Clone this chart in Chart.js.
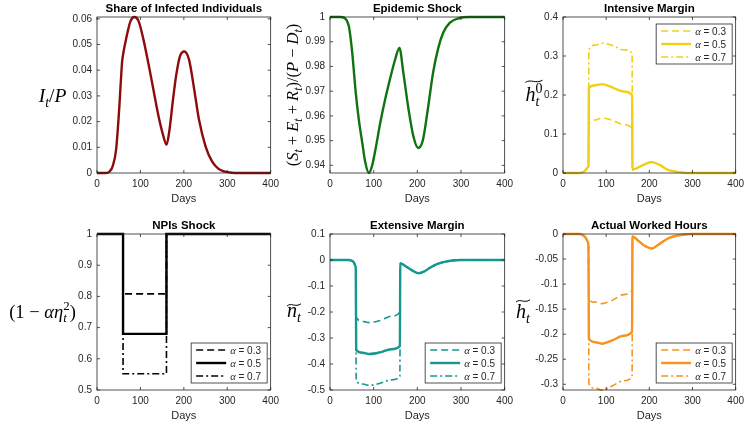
<!DOCTYPE html>
<html>
<head>
<meta charset="utf-8">
<title>Epidemic shock and hours worked</title>
<script src="https://cdn.jsdelivr.net/npm/chart.js@4.4.1/dist/chart.umd.min.js"></script>
<style>
  body { margin: 0; background: #fff; }
  #fig { position: relative; width: 745px; height: 425px; overflow: hidden; background: #fff; }
  #fig canvas { position: absolute; }
</style>
</head>
<body>
<div id="fig"></div>
<script>
// Valores (dias 0-400)
const xTicks = [0, 100, 200, 300, 400];
const alphas = [0.3, 0.5, 0.7];

// Share of Infected Individuals
const daysInfected = [0, 20, 29, 36, 44, 51, 55, 58, 61, 65, 70, 77, 86, 96, 107, 119, 130, 141, 152, 160, 167, 175, 182, 191, 201, 212, 224, 235, 250, 265, 280, 295, 310, 330, 400];
const infected = [0, 0, 0.0006, 0.0026, 0.0091, 0.0246, 0.036, 0.0435, 0.047, 0.0505, 0.0545, 0.059, 0.0607, 0.059, 0.0519, 0.0421, 0.0324, 0.0227, 0.0149, 0.011, 0.0168, 0.0285, 0.0376, 0.0454, 0.0473, 0.0441, 0.0324, 0.0207, 0.0104, 0.0045, 0.0016, 0.0005, 0.0001, 0, 0];
const ticksInfected = [0, 0.01, 0.02, 0.03, 0.04, 0.05, 0.06];

// Epidemic Shock
const daysShock = [0, 25, 36, 44, 51, 59, 66, 74, 81, 89, 96, 104, 115, 127, 138, 149, 159, 168, 180, 191, 202, 213, 225, 236, 248, 259, 274, 297, 320, 400];
const shock = [1, 1, 0.9992, 0.9955, 0.9854, 0.9693, 0.9585, 0.949, 0.941, 0.9369, 0.9396, 0.9463, 0.9571, 0.9672, 0.9753, 0.9827, 0.9875, 0.9774, 0.9625, 0.9517, 0.947, 0.9504, 0.9639, 0.9774, 0.9875, 0.9935, 0.9976, 0.9996, 1, 1];
const ticksShock = [0.94, 0.95, 0.96, 0.97, 0.98, 0.99, 1];

// lockdown window, days 60-160
const lockDays = [60, 75, 90, 115, 140, 160];

// Intensive Margin
const preIntensiveDays = [0, 38, 48, 54, 58, 59];
const preIntensive = [0, 0, 0.003, 0.010, 0.015, 0.017];
const lockIntensive03 = [0.126, 0.136, 0.141, 0.135, 0.124, 0.115];
const lockIntensive05 = [0.218, 0.225, 0.228, 0.219, 0.209, 0.200];
const lockIntensive07 = [0.316, 0.328, 0.333, 0.327, 0.316, 0.307];
const postIntensiveDays = [161, 170, 185, 205, 225, 242, 265, 290, 400];
const postIntensive = [0.0085, 0.012, 0.02, 0.028, 0.02, 0.0085, 0.003, 0, 0];
const ticksIntensive = [0, 0.1, 0.2, 0.3, 0.4];

// NPIs Shock
const npiDays = [0, 60, 60, 160, 160, 400];
const npi03 = [1, 1, 0.808, 0.808, 1, 1];
const npi05 = [1, 1, 0.68, 0.68, 1, 1];
const npi07 = [1, 1, 0.552, 0.552, 1, 1];
const ticksNpi = [0.5, 0.6, 0.7, 0.8, 0.9, 1];

// Extensive Margin
const preExtensiveDays = [0, 42, 50, 55, 58, 59];
const preExtensive = [0, 0, -0.003, -0.01, -0.022, -0.032];
const lockExtensive03 = [-0.22, -0.236, -0.241, -0.233, -0.216, -0.201];
const lockExtensive05 = [-0.346, -0.357, -0.3615, -0.355, -0.343, -0.331];
const lockExtensive07 = [-0.465, -0.477, -0.482, -0.474, -0.461, -0.448];
const postExtensiveDays = [161, 175, 190, 203, 215, 228, 245, 260, 280, 300, 400];
const postExtensive = [-0.013, -0.026, -0.042, -0.051, -0.045, -0.031, -0.016, -0.008, -0.002, 0, 0];
const ticksExtensive = [-0.5, -0.4, -0.3, -0.2, -0.1, 0, 0.1];

// Actual Worked Hours
const preHoursDays = [0, 38, 47, 53, 57, 59];
const preHours = [0, 0, -0.003, -0.008, -0.015, -0.025];
const lockHours03 = [-0.131, -0.136, -0.139, -0.132, -0.121, -0.112];
const lockHours05 = [-0.209, -0.216, -0.219, -0.212, -0.203, -0.195];
const lockHours07 = [-0.299, -0.308, -0.312, -0.303, -0.293, -0.285];
const postHoursDays = [161, 175, 190, 206, 220, 243, 260, 273, 300, 400];
const postHours = [-0.005, -0.014, -0.024, -0.029, -0.022, -0.009, -0.004, -0.002, 0, 0];
const ticksHours = [-0.3, -0.25, -0.2, -0.15, -0.1, -0.05, 0];

// ---------------------------------------------------------------
const PAD_L = 100, PAD_T = 20, PAD_R = 10, PAD_B = 36;
const AXIS = '#262626';
const SANS = '"Liberation Sans", Arial, sans-serif';
const SERIF = '"Liberation Serif", "Times New Roman", serif';
const dashes = { dash: [7, 4], solid: [], dashdot: [7, 3, 2, 3] };
const styles = ['dash', 'solid', 'dashdot'];

function line(xs, ys, color, style, smooth) {
    return {
        data: xs.map((x, i) => ({ x: x, y: ys[i] })),
        borderColor: color,
        borderWidth: style === 'solid' ? 2.4 : 1.6,
        borderDash: dashes[style],
        pointRadius: 0,
        fill: false,
        tension: 0,
        cubicInterpolationMode: smooth ? 'monotone' : 'default',
        clip: 3
    };
}

function alphaLines(pre, preX, locks, post, postX, color) {
    return locks.map((lk, k) =>
        line(preX.concat(lockDays, postX), pre.concat(lk, post), color, styles[k], true));
}

// texto matematico simples: partes com italico, subscrito e sobrescrito
function drawMath(ctx, parts, cx, cy, size, tilde) {
    const items = [];
    let x = 0, prev = null;
    parts.forEach(p => {
        const fs = (p.sub || p.sup) ? size * 0.7 : size;
        ctx.font = (p.it ? 'italic ' : '') + fs + 'px ' + SERIF;
        const w = ctx.measureText(p.t).width;
        let px = x;
        if (p.back && prev) { px = prev.x; x = Math.max(x, px + w); } else { x += w; }
        prev = { p: p, font: ctx.font, x: px, dy: p.sub ? size * 0.24 : p.sup ? -size * 0.4 : 0 };
        items.push(prev);
    });
    const x0 = cx - x / 2, base = cy + size * 0.3;
    ctx.textAlign = 'left';
    ctx.textBaseline = 'alphabetic';
    items.forEach(it => {
        ctx.font = it.font;
        ctx.fillText(it.p.t, x0 + it.x, base + it.dy);
    });
    if (tilde) {
        const ty = base - size * tilde, w = x;
        ctx.beginPath();
        ctx.moveTo(x0, ty + 1);
        ctx.bezierCurveTo(x0 + w * 0.3, ty - 2.8, x0 + w * 0.6, ty + 2.8, x0 + w, ty - 1.2);
        ctx.lineWidth = 1;
        ctx.strokeStyle = '#000';
        ctx.stroke();
    }
}

function decor(spec) {
    return {
        id: 'decor',
        afterDraw(chart) {
            const { ctx, chartArea: a, scales } = chart;
            ctx.save();
            // caixa e marcas para dentro
            ctx.strokeStyle = AXIS;
            ctx.lineWidth = 0.8;
            ctx.strokeRect(a.left, a.top, a.right - a.left, a.bottom - a.top);
            ctx.beginPath();
            scales.x.ticks.forEach(t => {
                const x = scales.x.getPixelForValue(t.value);
                ctx.moveTo(x, a.bottom); ctx.lineTo(x, a.bottom - 3);
                ctx.moveTo(x, a.top); ctx.lineTo(x, a.top + 3);
            });
            scales.y.ticks.forEach(t => {
                const y = scales.y.getPixelForValue(t.value);
                ctx.moveTo(a.left, y); ctx.lineTo(a.left + 3, y);
                ctx.moveTo(a.right, y); ctx.lineTo(a.right - 3, y);
            });
            ctx.stroke();

            // titulo
            ctx.fillStyle = '#000';
            ctx.font = 'bold 11.5px ' + SANS;
            ctx.textAlign = 'center';
            ctx.textBaseline = 'middle';
            ctx.fillText(spec.title, (a.left + a.right) / 2, a.top - 8);

            // rotulo do eixo y
            const yl = spec.ylabel;
            const cx = a.left + yl.dx, cy = (a.top + a.bottom) / 2 + (yl.dy || 0);
            ctx.fillStyle = '#000';
            if (yl.rotate) {
                ctx.save();
                ctx.translate(cx, cy);
                ctx.rotate(-Math.PI / 2);
                drawMath(ctx, yl.parts, 0, 0, yl.size, yl.tilde);
                ctx.restore();
            } else {
                drawMath(ctx, yl.parts, cx, cy, yl.size, yl.tilde);
            }

            // legenda
            if (spec.legend) {
                const lw = 76, lh = 40;
                const lx = a.right - 3.5 - lw;
                const ly = spec.legend === 'ne' ? a.top + 7 : a.bottom - 7 - lh;
                ctx.fillStyle = '#fff';
                ctx.fillRect(lx, ly, lw, lh);
                ctx.strokeStyle = AXIS;
                ctx.lineWidth = 0.8;
                ctx.setLineDash([]);
                ctx.strokeRect(lx, ly, lw, lh);
                chart.data.datasets.forEach((ds, k) => {
                    const ry = ly + 7 + k * 13;
                    ctx.beginPath();
                    ctx.setLineDash(ds.borderDash);
                    ctx.strokeStyle = ds.borderColor;
                    ctx.lineWidth = ds.borderWidth;
                    ctx.moveTo(lx + 5, ry);
                    ctx.lineTo(lx + 35, ry);
                    ctx.stroke();
                    ctx.setLineDash([]);
                    ctx.fillStyle = AXIS;
                    ctx.textAlign = 'left';
                    ctx.textBaseline = 'alphabetic';
                    ctx.font = 'italic 10.5px ' + SERIF;
                    ctx.fillText('α', lx + 39, ry + 3.5);
                    const aw = ctx.measureText('α').width;
                    ctx.font = '10px ' + SANS;
                    ctx.fillText(' = ' + alphas[k], lx + 39 + aw, ry + 3.5);
                });
            }
            ctx.restore();
        }
    };
}

function fmt(v) { return String(+v.toFixed(4)); }

function makePanel(o) {
    const w = o.box[2] - o.box[0], h = o.box[3] - o.box[1];
    const cv = document.createElement('canvas');
    cv.width = w + PAD_L + PAD_R;
    cv.height = h + PAD_T + PAD_B;
    cv.style.left = (o.box[0] - PAD_L) + 'px';
    cv.style.top = (o.box[1] - PAD_T) + 'px';
    cv.style.width = cv.width + 'px';
    cv.style.height = cv.height + 'px';
    document.getElementById('fig').appendChild(cv);

    return new Chart(cv.getContext('2d'), {
        type: 'line',
        data: { datasets: o.datasets },
        options: {
            responsive: false,
            animation: false,
            devicePixelRatio: 1,
            layout: { padding: { left: 0, top: PAD_T, right: PAD_R, bottom: 0 } },
            plugins: { legend: { display: false }, tooltip: { enabled: false }, title: { display: false } },
            scales: {
                x: {
                    type: 'linear', min: 0, max: 400,
                    grid: { display: false, drawTicks: false },
                    border: { display: false },
                    afterBuildTicks: s => { s.ticks = xTicks.map(v => ({ value: v })); },
                    afterFit: s => { s.height = PAD_B; },
                    ticks: { padding: 5, color: AXIS, font: { family: SANS, size: 10 }, maxRotation: 0, autoSkip: false, callback: fmt },
                    title: { display: true, text: 'Days', color: AXIS, font: { family: SANS, size: 11 }, padding: { top: 0, bottom: 3 } }
                },
                y: {
                    type: 'linear', min: o.ymin, max: o.ymax,
                    grid: { display: false, drawTicks: false },
                    border: { display: false },
                    afterBuildTicks: s => { s.ticks = o.yticks.map(v => ({ value: v })); },
                    afterFit: s => { s.width = PAD_L; },
                    ticks: { padding: 5, color: AXIS, font: { family: SANS, size: 10 }, autoSkip: false, callback: fmt }
                }
            }
        },
        plugins: [decor(o)]
    });
}

// ---------------------------------------------------------------
const RED = '#8e0b0b', GREEN = '#0f730f', YELLOW = '#f2cf16', BLACK = '#000000', TEAL = '#16978f', ORANGE = '#f7931e';

makePanel({
    box: [97, 17, 274, 173], ymin: 0, ymax: 0.0607, yticks: ticksInfected,
    title: 'Share of Infected Individuals',
    ylabel: { dx: -44.5, dy: 1, size: 19.5, parts: [{ t: 'I', it: 1 }, { t: 't', it: 1, sub: 1 }, { t: '/' }, { t: 'P', it: 1 }] },
    datasets: [line(daysInfected, infected, RED, 'solid', true)]
});

makePanel({
    box: [330, 17, 508, 173], ymin: 0.9369, ymax: 1, yticks: ticksShock,
    title: 'Epidemic Shock',
    ylabel: { dx: -37, size: 16.5, rotate: true, parts: [
        { t: '(' }, { t: 'S', it: 1 }, { t: 't', it: 1, sub: 1 }, { t: ' + ' },
        { t: 'E', it: 1 }, { t: 't', it: 1, sub: 1 }, { t: ' + ' },
        { t: 'R', it: 1 }, { t: 't', it: 1, sub: 1 }, { t: ')/(' },
        { t: 'P', it: 1 }, { t: ' − ' }, { t: 'D', it: 1 }, { t: 't', it: 1, sub: 1 }, { t: ')' }] },
    datasets: [line(daysShock, shock, GREEN, 'solid', true)]
});

makePanel({
    box: [563, 17, 739, 173], ymin: 0, ymax: 0.4, yticks: ticksIntensive,
    title: 'Intensive Margin', legend: 'ne',
    ylabel: { dx: -29, dy: 0, size: 20, tilde: 0.98, parts: [{ t: 'h', it: 1 }, { t: 't', it: 1, sub: 1 }, { t: '0', sup: 1, back: 1 }] },
    datasets: alphaLines(preIntensive, preIntensiveDays, [lockIntensive03, lockIntensive05, lockIntensive07], postIntensive, postIntensiveDays, YELLOW)
});

makePanel({
    box: [97, 234, 274, 390], ymin: 0.5, ymax: 1, yticks: ticksNpi,
    title: 'NPIs Shock', legend: 'se',
    ylabel: { dx: -54.5, dy: 0, size: 18.5, parts: [{ t: '(1 − ' }, { t: 'α', it: 1 }, { t: 'η', it: 1 }, { t: 't', it: 1, sub: 1 }, { t: '2', sup: 1, back: 1 }, { t: ')' }] },
    datasets: [line(npiDays, npi03, BLACK, 'dash', false), line(npiDays, npi05, BLACK, 'solid', false), line(npiDays, npi07, BLACK, 'dashdot', false)]
});

makePanel({
    box: [330, 234, 508, 390], ymin: -0.5, ymax: 0.1, yticks: ticksExtensive,
    title: 'Extensive Margin', legend: 'se',
    ylabel: { dx: -36, dy: -1, size: 20, tilde: 0.6, parts: [{ t: 'n', it: 1 }, { t: 't', it: 1, sub: 1 }] },
    datasets: alphaLines(preExtensive, preExtensiveDays, [lockExtensive03, lockExtensive05, lockExtensive07], postExtensive, postExtensiveDays, TEAL)
});

makePanel({
    box: [563, 234, 739, 390], ymin: -0.3114, ymax: 0, yticks: ticksHours,
    title: 'Actual Worked Hours', legend: 'se',
    ylabel: { dx: -40, dy: 0, size: 20, tilde: 0.85, parts: [{ t: 'h', it: 1 }, { t: 't', it: 1, sub: 1 }] },
    datasets: alphaLines(preHours, preHoursDays, [lockHours03, lockHours05, lockHours07], postHours, postHoursDays, ORANGE)
});
</script>
</body>
</html>
